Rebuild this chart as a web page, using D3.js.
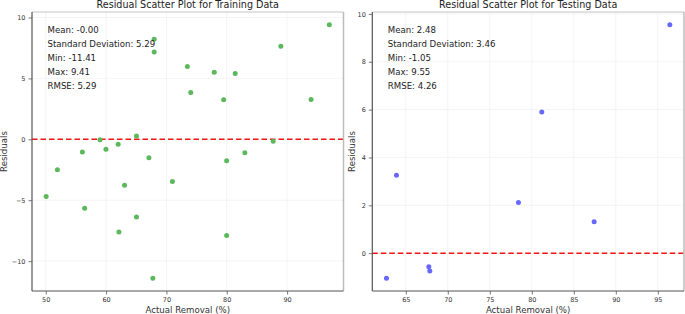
<!DOCTYPE html>
<html>
<head>
<meta charset="utf-8">
<script src="https://cdn.jsdelivr.net/npm/d3@7"></script>
<style>
  body { margin: 0; background: #fff; }
  text { font-family: "DejaVu Sans", sans-serif; }
</style>
</head>
<body>
<div id="chart"></div>
<script>
// training residuals (actual removal %, residual)
const trainX = [56.07, 58.99, 59.98, 62.0, 65.04, 67.1, 67.97, 67.97, 73.47, 74.03,
                77.93, 79.49, 81.4, 79.98, 83.0, 87.69, 88.96, 93.97, 97.0,
                51.93, 50.07, 56.45, 63.06, 70.99, 65.04, 62.13, 79.98, 67.75];
const trainY = [-1.04, -0.03, -0.82, -0.41, 0.27, -1.52, 8.21, 7.17, 5.97, 3.85,
                5.51, 3.24, 5.4, -1.75, -1.1, -0.16, 7.63, 3.27, 9.41,
                -2.49, -4.70, -5.65, -3.77, -3.47, -6.38, -7.61, -7.89, -11.41];

// testing residuals
const testX = [96.43, 81.19, 63.89, 78.41, 87.42, 62.7, 67.74, 67.86];
const testY = [9.55, 5.90, 3.26, 2.12, 1.31, -1.05, -0.57, -0.74];

const trainStats = ["Mean: -0.00", "Standard Deviation: 5.29", "Min: -11.41", "Max: 9.41", "RMSE: 5.29"];
const testStats = ["Mean: 2.48", "Standard Deviation: 3.46", "Min: -1.05", "Max: 9.55", "RMSE: 4.26"];

const trainXTicks = [50, 60, 70, 80, 90];
const trainYTicks = [-10, -5, 0, 5, 10];
const testXTicks = [65, 70, 75, 80, 85, 90, 95];
const testYTicks = [0, 2, 4, 6, 8, 10];

const W = 685, H = 314;
const svg = d3.select("#chart").append("svg")
    .attr("width", W).attr("height", H);

// pad the data range by 5% like matplotlib does
function padded(vals) {
    const [a, b] = d3.extent(vals);
    const p = (b - a) * 0.05;
    return [a - p, b + p];
}

function panel(opts) {
    const {left, right, top, bottom, xs, ys, color, title, stats, xTicks, yTicks, yLabelX} = opts;

    const x = d3.scaleLinear().domain(padded(xs)).range([left, right]);
    const y = d3.scaleLinear().domain(padded(ys)).range([bottom, top]);
    const g = svg.append("g");

    // grid
    g.selectAll(".gx").data(xTicks).enter().append("line")
        .attr("x1", d => x(d)).attr("x2", d => x(d))
        .attr("y1", top).attr("y2", bottom)
        .attr("stroke", "#ececec").attr("stroke-width", 0.6);
    g.selectAll(".gy").data(yTicks).enter().append("line")
        .attr("x1", left).attr("x2", right)
        .attr("y1", d => y(d)).attr("y2", d => y(d))
        .attr("stroke", "#ececec").attr("stroke-width", 0.6);

    // zero line
    g.append("line")
        .attr("x1", left).attr("x2", right)
        .attr("y1", y(0)).attr("y2", y(0))
        .attr("stroke", "#f41414").attr("stroke-width", 1.5)
        .attr("stroke-dasharray", "5.5,3");

    // points
    g.selectAll("circle").data(xs).enter().append("circle")
        .attr("cx", d => x(d))
        .attr("cy", (d, i) => y(ys[i]))
        .attr("r", 2.5)
        .attr("fill", color);

    // spines
    g.append("line").attr("x1", left).attr("x2", right).attr("y1", top).attr("y2", top)
        .attr("stroke", "#c4c4c4").attr("stroke-width", 1);
    g.append("line").attr("x1", right).attr("x2", right).attr("y1", top).attr("y2", bottom)
        .attr("stroke", "#bcbcbc").attr("stroke-width", 1.5);

    const xAxis = g.append("g")
        .attr("transform", "translate(0," + bottom + ")")
        .call(d3.axisBottom(x).tickValues(xTicks).tickSize(3.5).tickPadding(3).tickSizeOuter(0));
    const yAxis = g.append("g")
        .attr("transform", "translate(" + left + ",0)")
        .call(d3.axisLeft(y).tickValues(yTicks).tickSize(3.5).tickPadding(3).tickSizeOuter(0));

    [xAxis, yAxis].forEach(a => {
        a.select(".domain").attr("stroke", "#555").attr("stroke-width", 1.2);
        a.selectAll(".tick line").attr("stroke", "#555").attr("stroke-width", 0.8);
        a.selectAll(".tick text").attr("fill", "#333")
            .style("font-size", "6.5px").style("font-family", "DejaVu Sans, sans-serif");
    });
    // make the bottom spine span the whole box
    xAxis.select(".domain").attr("d", "M" + left + ",0H" + right);
    yAxis.select(".domain").attr("d", "M0," + top + "V" + bottom);

    // title
    g.append("text")
        .attr("x", (left + right) / 2).attr("y", 7.5)
        .attr("text-anchor", "middle")
        .attr("fill", "#222").style("font-size", "9.6px")
        .text(title);

    // axis labels
    g.append("text")
        .attr("x", (left + right) / 2).attr("y", 313)
        .attr("text-anchor", "middle")
        .attr("fill", "#333").style("font-size", "8.6px")
        .text("Actual Removal (%)");
    g.append("text")
        .attr("transform", "translate(" + yLabelX + "," + ((top + bottom) / 2) + ") rotate(-90)")
        .attr("text-anchor", "middle")
        .attr("dy", "0.35em")
        .attr("fill", "#333").style("font-size", "8.6px")
        .text("Residuals");

    // stats box text
    g.selectAll(".stat").data(stats).enter().append("text")
        .attr("x", left + 15.5)
        .attr("y", (d, i) => 32.8 + i * 13.95)
        .attr("fill", "#222").style("font-size", "8.6px")
        .text(d => d);
}

panel({
    left: 32, right: 343.5, top: 12, bottom: 291,
    xs: trainX, ys: trainY, color: "#5cb85c",
    title: "Residual Scatter Plot for Training Data",
    stats: trainStats, xTicks: trainXTicks, yTicks: trainYTicks, yLabelX: 4
});

panel({
    left: 372.3, right: 684, top: 12, bottom: 291,
    xs: testX, ys: testY, color: "#6868ff",
    title: "Residual Scatter Plot for Testing Data",
    stats: testStats, xTicks: testXTicks, yTicks: testYTicks, yLabelX: 351.5
});
</script>
</body>
</html>
